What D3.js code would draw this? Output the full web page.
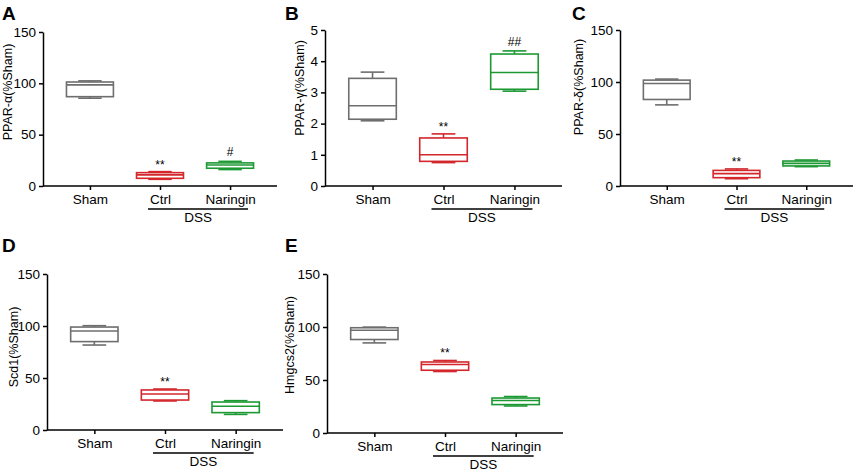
<!DOCTYPE html>
<html>
<head>
<meta charset="utf-8">
<script src="https://cdn.jsdelivr.net/npm/d3@7"></script>
<style>
  body { margin: 0; background: #fff; }
  svg { display: block; font-family: "Liberation Sans", Arial, sans-serif; }
  .axis path, .axis line { stroke: #000; stroke-width: 1.5; }
  .axis text { fill: #000; font-size: 13.5px; }
</style>
</head>
<body>
<svg width="858" height="472"></svg>
<script>
// groups and colours
var groups = ["Sham", "Ctrl", "Naringin"];
var colors = ["#6e6e6e", "#d3272c", "#1c9933"];

// box stats per group: [min, q1, median, q3, max]
var pparA  = [[85.5, 87, 98.5, 101.3, 102.4], [6.5, 7.5, 10.8, 13, 14], [16, 17.3, 20.5, 22.5, 24]];
var pparG  = [[2.09, 2.14, 2.57, 3.45, 3.65], [0.75, 0.79, 1.0, 1.54, 1.67], [3.04, 3.1, 3.64, 4.23, 4.33]];
var pparD  = [[78, 83.2, 98.6, 101.8, 102.8], [7, 8, 11.9, 15, 16.4], [18.6, 19.3, 21.8, 24, 25]];
var scd1   = [[81.7, 85, 95.2, 99, 100.3], [27.9, 28.8, 34.6, 38.5, 39.4], [15, 16.7, 22.8, 26.9, 28.2]];
var hmgcs2 = [[85, 88.2, 97, 99.3, 99.9], [58, 59.2, 64.6, 67, 68.4], [25.5, 26.8, 30.6, 33, 34.4]];

// significance marks per group
var marksA = ["", "**", "#"];
var marksG = ["", "**", "##"];
var marksD = ["", "**", ""];
var marksS = ["", "**", ""];
var marksH = ["", "**", ""];

var ticks150 = [0, 50, 100, 150];
var ticks5 = [0, 1, 2, 3, 4, 5];

var svg = d3.select("svg");

var panels = [
  {letter: "A", lx: 2,   ly: 20,  left: 43,  right: 277, top: 32,  bottom: 186, data: pparA,  marks: marksA, ticks: ticks150, label: "PPAR-α(%Sham)",  labx: 8,   laby: 92},
  {letter: "B", lx: 285, ly: 20,  left: 325, right: 562, top: 30,  bottom: 186, data: pparG,  marks: marksG, ticks: ticks5,   label: "PPAR-γ(%Sham)",  labx: 300, laby: 88},
  {letter: "C", lx: 572, ly: 20,  left: 620, right: 853, top: 30,  bottom: 186, data: pparD,  marks: marksD, ticks: ticks150, label: "PPAR-δ(%Sham)",  labx: 579, laby: 87},
  {letter: "D", lx: 2,   ly: 252, left: 47,  right: 283, top: 274, bottom: 430, data: scd1,   marks: marksS, ticks: ticks150, label: "Scd1(%Sham)",    labx: 14,  laby: 347},
  {letter: "E", lx: 285, ly: 252, left: 327, right: 563, top: 274, bottom: 433, data: hmgcs2, marks: marksH, ticks: ticks150, label: "Hmgcs2(%Sham)",  labx: 290, laby: 345}
];

panels.forEach(function(p) {
  var g = svg.append("g");

  var x = d3.scalePoint()
      .domain(groups)
      .range([p.left, p.right])
      .padding(0.67);

  var y = d3.scaleLinear()
      .domain([0, d3.max(p.ticks)])
      .range([p.bottom, p.top]);

  var bw = x.step() * 0.67;

  g.append("g")
      .attr("class", "axis")
      .attr("transform", "translate(" + p.left + ",0)")
      .call(d3.axisLeft(y).tickValues(p.ticks).tickFormat(d3.format("d"))
        .tickSize(4).tickPadding(3).tickSizeOuter(0));

  g.append("g")
      .attr("class", "axis")
      .attr("transform", "translate(0," + p.bottom + ")")
      .call(d3.axisBottom(x).tickSize(4).tickPadding(4).tickSizeOuter(0))
      .call(function(a) { a.select(".domain").attr("d", "M" + p.left + ",0H" + p.right); });

  // DSS bracket
  var x1 = x("Ctrl") - 12, x2 = x("Naringin") + 18;
  g.append("line")
      .attr("x1", x1).attr("x2", x2)
      .attr("y1", p.bottom + 23).attr("y2", p.bottom + 23)
      .attr("stroke", "#000").attr("stroke-width", 1.3);
  g.append("text")
      .attr("x", (x1 + x2) / 2).attr("y", p.bottom + 36)
      .attr("text-anchor", "middle")
      .style("font-size", "13.5px")
      .text("DSS");

  // y label
  g.append("text")
      .attr("transform", "translate(" + p.labx + "," + p.laby + ") rotate(-90)")
      .attr("text-anchor", "middle")
      .attr("dy", "0.35em")
      .style("font-size", "12.5px")
      .text(p.label);

  // panel letter
  g.append("text")
      .attr("x", p.lx).attr("y", p.ly)
      .style("font-size", "19px")
      .style("font-weight", "bold")
      .text(p.letter);

  // boxes
  var box = g.selectAll(".box")
      .data(p.data)
    .enter().append("g")
      .attr("class", "box")
      .attr("stroke", function(d, i) { return colors[i]; })
      .attr("stroke-width", 1.6)
      .attr("fill", "none");

  box.append("line")
      .attr("x1", function(d, i) { return x(groups[i]); })
      .attr("x2", function(d, i) { return x(groups[i]); })
      .attr("y1", function(d) { return y(d[0]); })
      .attr("y2", function(d) { return y(d[4]); });

  box.append("rect")
      .attr("x", function(d, i) { return x(groups[i]) - bw / 2; })
      .attr("width", bw)
      .attr("y", function(d) { return y(d[3]); })
      .attr("height", function(d) { return y(d[1]) - y(d[3]); })
      .attr("fill", "#fff");

  box.append("line")
      .attr("x1", function(d, i) { return x(groups[i]) - bw / 2; })
      .attr("x2", function(d, i) { return x(groups[i]) + bw / 2; })
      .attr("y1", function(d) { return y(d[2]); })
      .attr("y2", function(d) { return y(d[2]); });

  [0, 4].forEach(function(k) {
    box.append("line")
        .attr("x1", function(d, i) { return x(groups[i]) - bw / 4; })
        .attr("x2", function(d, i) { return x(groups[i]) + bw / 4; })
        .attr("y1", function(d) { return y(d[k]); })
        .attr("y2", function(d) { return y(d[k]); });
  });

  // significance marks
  g.selectAll(".mark")
      .data(p.data)
    .enter().append("text")
      .attr("class", "mark")
      .attr("x", function(d, i) { return x(groups[i]); })
      .attr("y", function(d, i) { return y(d[4]) - (p.marks[i].charAt(0) === "#" ? 5 : 3); })
      .attr("text-anchor", "middle")
      .style("font-size", "12px")
      .text(function(d, i) { return p.marks[i]; });
});
</script>
</body>
</html>
